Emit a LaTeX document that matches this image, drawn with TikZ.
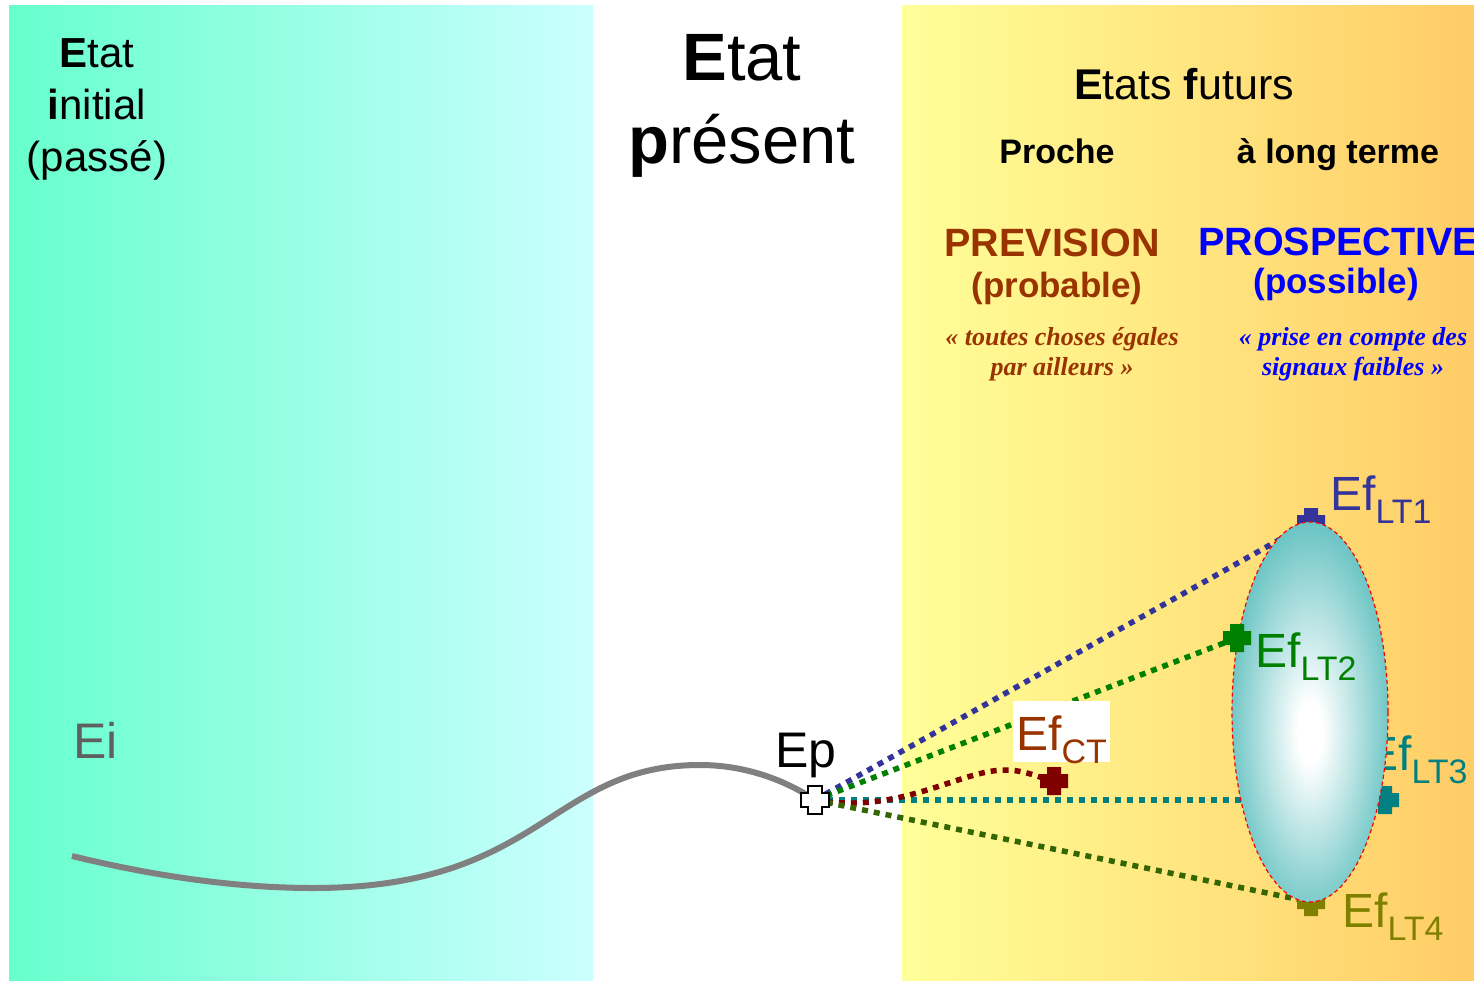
\documentclass[tikz,border=0pt]{standalone}
\usepackage{fontspec}
\setmainfont{Liberation Sans}
\newfontfamily\timesfont{Liberation Serif}
\usepackage{xcolor}
\usepackage{tikz}

\definecolor{vertgauche}{RGB}{102,255,204}
\definecolor{cyanclair}{RGB}{204,255,255}
\definecolor{jaunepale}{RGB}{255,255,153}
\definecolor{orangepale}{RGB}{255,204,102}
\definecolor{brique}{RGB}{153,51,0}
\definecolor{bordeaux}{RGB}{128,0,0}
\definecolor{bleult}{RGB}{51,51,153}
\definecolor{vertlt}{RGB}{0,128,0}
\definecolor{sarcelle}{RGB}{0,128,128}
\definecolor{oliveLT}{RGB}{128,128,0}
\definecolor{kaki}{RGB}{51,102,0}
\definecolor{ellipsecol}{RGB}{102,194,194}
\definecolor{gristrait}{RGB}{128,128,128}
\definecolor{grisfonce}{RGB}{96,96,96}

\pgfdeclareradialshading{ombreellipse}{\pgfpoint{0bp}{-3bp}}{color(0bp)=(white);
  color(4bp)=(white); color(27bp)=(ellipsecol); color(50bp)=(ellipsecol)}

\newcommand{\efl}[1]{Ef{\fontsize{34}{34}\selectfont\raisebox{-13pt}{#1}}}

\tikzset{
  pointille/.style={line width=5.5pt, dash pattern=on 6pt off 6pt},
  etiquette/.style={inner sep=0pt, anchor=base west, font=\fontsize{48}{48}\selectfont},
  citation/.style={align=center, anchor=north, inner sep=0pt,
    font=\timesfont\bfseries\itshape\fontsize{26}{30}\selectfont},
  croix/.pic={\path[pic actions] (-7,-14) -- (7,-14) -- (7,-7) -- (14,-7)
    -- (14,7) -- (7,7) -- (7,14) -- (-7,14) -- (-7,7) -- (-14,7)
    -- (-14,-7) -- (-7,-7) -- cycle;}
}

\begin{document}
\begin{tikzpicture}[x=1pt, y=-1pt]
    \path[use as bounding box, fill=white] (0,0) rectangle (1474,981);

    % Fonds
    \shade[left color=vertgauche, right color=cyanclair] (9,6) rectangle (593,980);
    \shade[left color=jaunepale, right color=orangepale] (902,6) rectangle (1474,980);

    % Titres
    \node[align=center, anchor=north, inner sep=0pt, font=\fontsize{42}{52}\selectfont]
        (initial) at (97,38) {\textbf{E}tat\\\textbf{i}nitial\\(passé)};
    \node[align=center, anchor=north, inner sep=0pt, font=\fontsize{67}{83}\selectfont]
        (present) at (742,34) {\textbf{E}tat\\\textbf{p}résent};
    \node[anchor=base, inner sep=0pt, font=\fontsize{43}{43}\selectfont]
        (futurs) at (1184,100) {\textbf{E}tats \textbf{f}uturs};
    \node[anchor=base, inner sep=0pt, font=\bfseries\fontsize{34}{34}\selectfont]
        (proche) at (1057,164) {Proche};
    \node[anchor=base, inner sep=0pt, font=\bfseries\fontsize{34}{34}\selectfont]
        (longterme) at (1338,164) {à long terme};

    \node[anchor=base, inner sep=0pt, text=brique, font=\bfseries\fontsize{39.5}{39.5}\selectfont]
        (prevision) at (1052,257) {PREVISION};
    \node[anchor=base, inner sep=0pt, text=brique, font=\bfseries\fontsize{35}{35}\selectfont]
        (probable) at (1057,298) {(probable)};
    \node[anchor=base west, inner sep=0pt, text=blue, font=\bfseries\fontsize{39.5}{39.5}\selectfont]
        (prospective) at (1198,256) {PROSPECTIVE};
    \node[anchor=base, inner sep=0pt, text=blue, font=\bfseries\fontsize{35}{35}\selectfont]
        (possible) at (1336,294) {(possible)};

    \node[citation, text=brique] (egales) at (1062,327) {« toutes choses égales\\par ailleurs »};
    \node[citation, text=blue] (signaux) at (1353,327) {« prise en compte des\\signaux faibles »};

    % Points
    \coordinate (debut) at (72,856);
    \coordinate (ep) at (815,800);
    \coordinate (ect) at (1054,781);
    \coordinate (elt1) at (1311,522);
    \coordinate (elt2) at (1237,638);
    \coordinate (elt3) at (1385,800);
    \coordinate (elt4) at (1311,902);

    % Trajectoire passee
    \draw[gristrait, line width=6pt] (debut) .. controls (170,880) and (250,888) .. (313,888)
        .. controls (543,888) and (550,765) .. (700,765)
        .. controls (745,765) and (785,780) .. (ep);
    \node[anchor=base west, inner sep=0pt, text=grisfonce, font=\fontsize{50}{50}\selectfont]
        (ei) at (73,758) {Ei};
    \node[anchor=base west, inner sep=0pt, font=\fontsize{50}{50}\selectfont]
        (eplabel) at (775,767) {Ep};

    % Trajectoires futures
    \draw[pointille, bleult] (ep) -- (elt1);
    \draw[pointille, vertlt] (ep) -- (elt2);
    \draw[pointille, sarcelle] (ep) -- (elt3);
    \draw[pointille, bordeaux] (ep) .. controls (900,815) and (960,770) .. (1005,770)
        .. controls (1025,770) and (1040,778) .. (ect);
    \draw[pointille, kaki] (ep) -- (elt4);

    \pic[fill=bleult] at (elt1) {croix};
    \pic[fill=sarcelle] at (elt3) {croix};
    \pic[fill=oliveLT] at (elt4) {croix};
    \node[etiquette, text=sarcelle] (lt3) at (1366,770) {\efl{LT3}};

    % Ellipse des futurs possibles
    \shade[shading=ombreellipse] (1310,712) ellipse [x radius=78, y radius=190];
    \draw[red, line width=1.2pt, dash pattern=on 4pt off 3pt] (1310,712) ellipse [x radius=78, y radius=190];

    \pic[fill=vertlt] at (elt2) {croix};
    \pic[fill=bordeaux] at (ect) {croix};
    \pic[fill=white, draw=black, line width=1.5pt] at (ep) {croix};

    \node[etiquette, text=bleult] (lt1) at (1330,510) {\efl{LT1}};
    \node[etiquette, text=vertlt] (lt2) at (1255,667) {\efl{LT2}};
    \node[etiquette, text=oliveLT] (lt4) at (1342,927) {\efl{LT4}};
    \node[etiquette, text=brique, fill=white, inner sep=3pt, text height=46pt, text depth=9pt]
        (ct) at (1013,750) {\efl{CT}};
\end{tikzpicture}
\end{document}
